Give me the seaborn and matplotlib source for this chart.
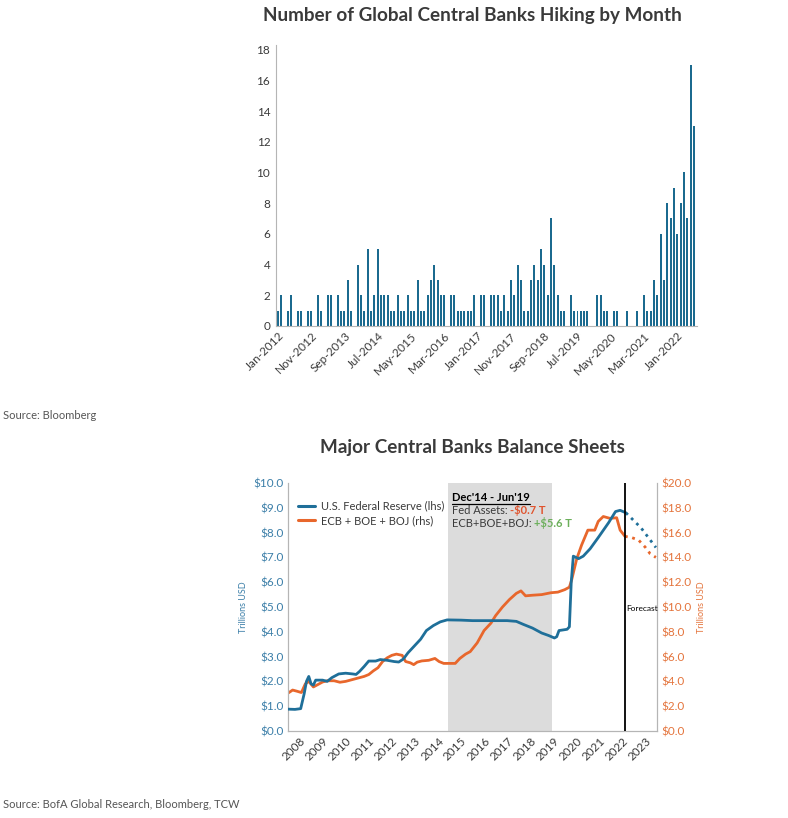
import matplotlib
matplotlib.use("Agg")
import pandas as pd
import matplotlib.pyplot as plt
import seaborn as sns
from matplotlib.lines import Line2D
from matplotlib.transforms import IdentityTransform
from matplotlib.ticker import FuncFormatter

# monthly number of central banks hiking, Jan-2012 .. Jun-2022
hikes = [1, 2, 0, 1, 2, 0, 1, 1, 0, 1, 1, 0,
         2, 1, 0, 2, 2, 0, 2, 1, 1, 3, 1, 0,
         4, 2, 1, 5, 1, 2, 5, 2, 2, 2, 1, 1,
         2, 1, 1, 2, 1, 1, 3, 1, 1, 2, 3, 4,
         3, 2, 2, 0, 2, 2, 1, 1, 1, 1, 1, 2,
         0, 2, 2, 0, 2, 2, 2, 1, 2, 1, 3, 2,
         4, 3, 1, 1, 3, 4, 3, 5, 4, 2, 7, 4,
         2, 1, 1, 0, 2, 1, 1, 1, 1, 1, 0, 0,
         2, 2, 1, 1, 0, 1, 1, 0, 0, 1, 0, 0,
         1, 0, 2, 1, 1, 3, 2, 6, 3, 8, 7, 9,
         6, 8, 10, 7, 17, 13]
months = list(pd.date_range("2012-01-01", periods=len(hikes), freq="MS").strftime("%b-%Y"))

# balance sheets (trillions USD), decimal years
fed_year = [2008.0, 2008.3, 2008.55, 2008.7, 2008.8, 2008.9, 2009.0, 2009.1, 2009.2,
            2009.5, 2009.7, 2009.9, 2010.2, 2010.5, 2010.8, 2010.95, 2011.1, 2011.3,
            2011.5, 2011.8, 2012.0, 2012.3, 2012.6, 2012.8, 2013.0, 2013.2, 2013.5,
            2013.75, 2014.0, 2014.3, 2014.6, 2014.9, 2015.5, 2016.0, 2016.5, 2017.0,
            2017.5, 2017.9, 2018.2, 2018.6, 2019.0, 2019.3, 2019.55, 2019.65, 2019.75,
            2020.1, 2020.2, 2020.28, 2020.37, 2020.6, 2020.8, 2021.1, 2021.45, 2021.9,
            2022.2, 2022.4, 2022.65]
fed_assets = [0.88, 0.87, 0.9, 1.5, 2.0, 2.2, 1.9, 1.85, 2.05,
              2.05, 2.0, 2.15, 2.3, 2.33, 2.3, 2.28, 2.4, 2.6,
              2.82, 2.82, 2.88, 2.85, 2.8, 2.78, 2.9, 3.15, 3.45,
              3.7, 4.05, 4.25, 4.4, 4.48, 4.47, 4.45, 4.45, 4.45,
              4.45, 4.42, 4.3, 4.15, 3.95, 3.85, 3.75, 3.8, 4.05,
              4.1, 4.2, 6.0, 7.05, 6.95, 7.05, 7.35, 7.8, 8.4,
              8.85, 8.9, 8.8]
fed_fc_year = [2022.65, 2023.3, 2023.95]
fed_fc_assets = [8.8, 8.2, 7.4]

ecb_year = [2008.0, 2008.2, 2008.4, 2008.58, 2008.75, 2008.9, 2009.1, 2009.3, 2009.5,
            2009.7, 2010.0, 2010.25, 2010.5, 2010.7, 2011.0, 2011.3, 2011.5, 2011.7,
            2011.9, 2012.1, 2012.3, 2012.5, 2012.7, 2012.95, 2013.1, 2013.3, 2013.45,
            2013.6, 2013.8, 2014.1, 2014.37, 2014.55, 2014.75, 2015.0, 2015.25, 2015.45,
            2015.7, 2015.9, 2016.2, 2016.5, 2016.8, 2017.0, 2017.3, 2017.6, 2017.9,
            2018.1, 2018.3, 2018.6, 2019.0, 2019.4, 2019.7, 2020.0, 2020.2, 2020.3,
            2020.52, 2020.73, 2021.0, 2021.3, 2021.45, 2021.67, 2021.96, 2022.25, 2022.4,
            2022.61]
ecb_assets = [3.05, 3.3, 3.2, 3.1, 3.8, 4.0, 3.55, 3.75, 3.95,
              4.05, 4.05, 3.93, 4.0, 4.1, 4.25, 4.4, 4.55, 4.85,
              5.1, 5.6, 5.9, 6.1, 6.2, 6.1, 5.6, 5.5, 5.35,
              5.55, 5.65, 5.7, 5.85, 5.6, 5.45, 5.45, 5.45, 5.85,
              6.2, 6.4, 7.1, 8.1, 8.7, 9.3, 10.0, 10.6, 11.1,
              11.3, 10.9, 10.95, 11.0, 11.15, 11.2, 11.4, 11.6, 12.2,
              13.9, 15.0, 16.2, 16.2, 16.9, 17.3, 17.15, 17.2, 16.2,
              15.7]
ecb_fc_year = [2022.61, 2022.9, 2023.2, 2023.5, 2023.7, 2023.95]
ecb_fc_assets = [15.7, 15.6, 15.4, 14.8, 14.3, 14.0]

years = list(range(2008, 2024))

sns.set_style("white")
plt.rcParams["font.family"] = ["Lato", "DejaVu Sans"]

BAR = "#1b6a8f"
BLUE = "#1f6f99"
ORANGE = "#e8672c"
GREY = "#b5b5b5"
TXT = "#3a3a3a"

fig = plt.figure(figsize=(7.88, 8.18), dpi=100)

# ---- top chart ----
ax1 = fig.add_axes([0.350, 0.6015, 0.535, 0.3435])
df = pd.DataFrame({"month": months, "hikes": hikes})
sns.barplot(data=df, x="month", y="hikes", color=BAR, saturation=1, width=0.6,
            linewidth=0, ax=ax1)
ax1.set_xlim(-0.6, 126)
ax1.set_ylim(0, 18.3)
ax1.set_yticks(range(0, 19, 2))
pos = list(range(0, len(months), 10))
ax1.set_xticks(pos)
ax1.set_xticklabels([months[i] for i in pos], rotation=45, ha="right",
                    rotation_mode="anchor", fontsize=8.5, color=TXT)
ax1.tick_params(axis="y", labelsize=8.5, labelcolor=TXT, length=0, pad=4)
ax1.tick_params(axis="x", length=0, pad=3)
ax1.set_xlabel("")
ax1.set_ylabel("")
for s in ["top", "right"]:
    ax1.spines[s].set_visible(False)
for s in ["left", "bottom"]:
    ax1.spines[s].set_color(GREY)
    ax1.spines[s].set_linewidth(0.8)

fig.text(0.600, 0.981, "Number of Global Central Banks Hiking by Month", ha="center",
         va="center", fontsize=13.6, fontweight="bold", color=TXT)
fig.text(0.004, 0.492, "Source: Bloomberg", fontsize=8, color="#555555", va="center")

# ---- bottom chart ----
ax2 = fig.add_axes([0.3655, 0.1064, 0.4683, 0.3031])
ax3 = ax2.twinx()
# blue (Fed) drawn above the orange line: left axes goes in front
ax2.set_zorder(ax3.get_zorder() + 1)
ax2.patch.set_visible(False)

ax3.axvspan(2014.92, 2019.46, color="#dcdcdc", lw=0, zorder=0)
sns.lineplot(x=ecb_year, y=ecb_assets, color=ORANGE, lw=2, ax=ax3)
sns.lineplot(x=ecb_fc_year, y=ecb_fc_assets, color=ORANGE, lw=2, ls=":", ax=ax3)
ax3.set_ylim(0, 20)
ax3.set_yticks(range(0, 21, 2))
ax3.yaxis.set_major_formatter(FuncFormatter(lambda v, p: "\\$%.1f" % v))
ax3.tick_params(axis="y", labelsize=8.5, labelcolor="#e4743c", length=0, pad=3)
ax3.set_ylabel("Trillions USD", fontsize=6.5, color="#e4743c", labelpad=4)

sns.lineplot(x=fed_year, y=fed_assets, color=BLUE, lw=2, ax=ax2, zorder=3)
sns.lineplot(x=fed_fc_year, y=fed_fc_assets, color=BLUE, lw=2, ls=":", ax=ax2, zorder=3)
ax2.axvline(2022.6, color="black", lw=1.3, zorder=4)
ax2.set_xlim(2008, 2024)
ax2.set_ylim(0, 10)
ax2.set_yticks(range(0, 11))
ax2.yaxis.set_major_formatter(FuncFormatter(lambda v, p: "\\$%.1f" % v))
ax2.set_xticks([y + 0.5 for y in years])
ax2.set_xticklabels([str(y) for y in years], rotation=45, ha="right",
                    rotation_mode="anchor", fontsize=8.5, color=TXT)
ax2.tick_params(axis="y", labelsize=8.5, labelcolor="#3b7ea8", length=0, pad=3)
ax2.tick_params(axis="x", length=0, pad=3)
ax2.set_ylabel("Trillions USD", fontsize=6.5, color="#3b7ea8", labelpad=4)
ax3.set_xlim(2008, 2024)

for a in (ax2, ax3):
    a.spines["top"].set_visible(False)
    for s in ["left", "bottom", "right"]:
        a.spines[s].set_color(GREY)
        a.spines[s].set_linewidth(0.8)

handles = [Line2D([], [], color=BLUE, lw=2.2), Line2D([], [], color=ORANGE, lw=2.2)]
ax2.legend(handles, ["U.S. Federal Reserve (lhs)", "ECB + BOE + BOJ (rhs)"],
           loc="upper left", bbox_to_anchor=(0.0, 0.97), frameon=False, fontsize=8,
           handlelength=1.5, handletextpad=0.6, labelspacing=0.35, labelcolor=TXT)

ax2.text(2022.68, 4.95, "Forecast", fontsize=6, color="black", va="center", zorder=5)

# annotation in the shaded window
t1 = ax2.text(2015.1, 9.27, "Dec'14 - Jun'19", fontsize=8, fontweight="bold",
              color="black", va="baseline", zorder=5)
t2 = ax2.text(2015.1, 8.75, "Fed Assets: ", fontsize=8, color=TXT, va="baseline", zorder=5)
t3 = ax2.text(2015.1, 8.23, "ECB+BOE+BOJ: ", fontsize=8, color=TXT, va="baseline", zorder=5)
fig.canvas.draw()
bb = t1.get_window_extent()
fig.add_artist(Line2D([bb.x0, bb.x1], [bb.y0 - 0.5, bb.y0 - 0.5], color="black",
                      lw=0.9, transform=IdentityTransform()))
inv = ax2.transData.inverted()
x2 = inv.transform((t2.get_window_extent().x1, 0))[0]
x3 = inv.transform((t3.get_window_extent().x1, 0))[0]
ax2.text(x2, 8.75, "-\\$0.7 T", fontsize=8, color="#e0542e", fontweight="bold",
         va="baseline", zorder=5)
ax2.text(x3, 8.23, "+\\$5.6 T", fontsize=8, color="#6caf5b", fontweight="bold",
         va="baseline", zorder=5)

fig.text(0.600, 0.4535, "Major Central Banks Balance Sheets", ha="center", va="center",
         fontsize=13.6, fontweight="bold", color=TXT)
fig.text(0.004, 0.016, "Source: BofA Global Research, Bloomberg, TCW", fontsize=8,
         color="#555555", va="center")

fig.savefig("out.png", dpi=100)
